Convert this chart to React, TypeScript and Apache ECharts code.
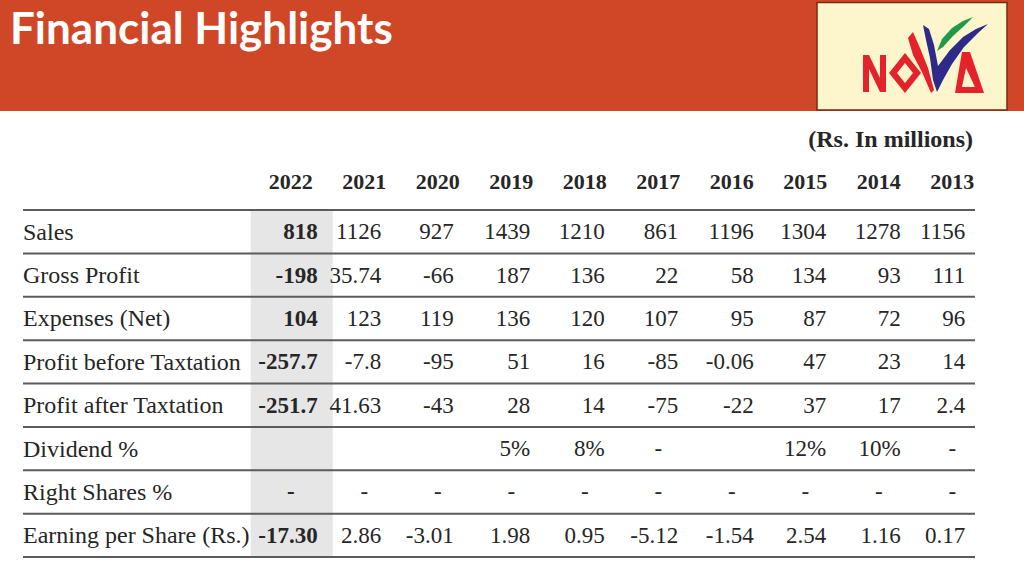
import React, { useEffect, useRef } from "react";
import * as echarts from "echarts";

const years = ["2022", "2021", "2020", "2019", "2018", "2017", "2016", "2015", "2014", "2013"];
const rowLabels = [
  "Sales",
  "Gross Profit",
  "Expenses (Net)",
  "Profit before Taxtation",
  "Profit after Taxtation",
  "Dividend %",
  "Right Shares %",
  "Earning per Share (Rs.)",
];
const sales = ["818", "1126", "927", "1439", "1210", "861", "1196", "1304", "1278", "1156"];
const grossProfit = ["-198", "35.74", "-66", "187", "136", "22", "58", "134", "93", "111"];
const expensesNet = ["104", "123", "119", "136", "120", "107", "95", "87", "72", "96"];
const profitBeforeTax = ["-257.7", "-7.8", "-95", "51", "16", "-85", "-0.06", "47", "23", "14"];
const profitAfterTax = ["-251.7", "41.63", "-43", "28", "14", "-75", "-22", "37", "17", "2.4"];
const dividend = ["", "", "", "5%", "8%", "-", "", "12%", "10%", "-"];
const rightShares = ["-", "-", "-", "-", "-", "-", "-", "-", "-", "-"];
const eps = ["-17.30", "2.86", "-3.01", "1.98", "0.95", "-5.12", "-1.54", "2.54", "1.16", "0.17"];

const tableRows = [sales, grossProfit, expensesNet, profitBeforeTax, profitAfterTax, dividend, rightShares, eps];
const highlightYear = "2022";
const title = "Financial Highlights";
const unitNote = "(Rs. In millions)";

// layout: right-edge offset of values from each column centre (px)
const valueAnchor = [27, 17, 16, 19, 20, 20, 22, 21, 22, 13];

const SERIF = "'Liberation Serif', 'Times New Roman', serif";
const TEXT = "#262626";

export default function App() {
  const ref = useRef<HTMLDivElement>(null);

  useEffect(() => {
    if (!ref.current) return;
    const chart = echarts.init(ref.current, undefined, { renderer: "svg" });

    const cellTexts: string[] = [];
    const cellData: number[][] = [];
    tableRows.forEach((row, r) => {
      row.forEach((v, c) => {
        cellTexts.push(v);
        cellData.push([c, r]);
      });
    });
    const hlIndex = years.indexOf(highlightYear);

    const option: any = {
      animation: false,
      backgroundColor: "#ffffff",
      grid: { left: 254, top: 210, width: 735, height: 347, containLabel: false },
      xAxis: {
        type: "category",
        data: years,
        position: "top",
        axisLine: { show: false },
        axisTick: { show: false },
        splitLine: { show: false },
        axisLabel: {
          margin: 18,
          fontFamily: SERIF,
          fontWeight: "bold",
          fontSize: 22,
          color: TEXT,
        },
      },
      yAxis: {
        type: "category",
        data: rowLabels,
        inverse: true,
        axisLine: { show: false },
        axisTick: { show: false },
        splitLine: { show: false },
        axisLabel: {
          align: "left",
          margin: 231,
          fontFamily: SERIF,
          fontSize: 24,
          color: TEXT,
        },
      },
      series: [
        {
          type: "custom",
          z: 1,
          silent: true,
          data: [[hlIndex, 0]],
          renderItem: (params: any, api: any) => {
            const cs = params.coordSys;
            const cx = api.coord([api.value(0), 0])[0];
            return {
              type: "rect",
              shape: { x: cx - 40, y: cs.y, width: 82, height: cs.height },
              style: { fill: "#e6e6e6" },
            };
          },
        },
        {
          type: "custom",
          z: 2,
          silent: true,
          data: rowLabels.map((_, r) => [0, r]),
          renderItem: (params: any, api: any) => {
            const cs = params.coordSys;
            const r = api.value(1);
            const y = api.coord([0, r])[1];
            const h = api.size([0, 1])[1];
            const x1 = cs.x - 231;
            const x2 = cs.x + cs.width - 14;
            const lineStyle = { stroke: "#5b5b5b", lineWidth: 2 };
            const children: any[] = [
              { type: "line", shape: { x1, y1: y + h / 2, x2, y2: y + h / 2 }, style: lineStyle },
            ];
            if (r === 0) {
              children.push({ type: "line", shape: { x1, y1: y - h / 2, x2, y2: y - h / 2 }, style: lineStyle });
            }
            return { type: "group", children };
          },
        },
        {
          type: "custom",
          z: 3,
          silent: true,
          data: cellData,
          renderItem: (params: any, api: any) => {
            const c = api.value(0);
            const r = api.value(1);
            const pt = api.coord([c, r]);
            const text = cellTexts[params.dataIndex];
            const isDash = text === "-";
            return {
              type: "text",
              x: isDash ? pt[0] : pt[0] + valueAnchor[c],
              y: pt[1],
              style: {
                text,
                align: isDash ? "center" : "right",
                verticalAlign: "middle",
                fill: TEXT,
                font: `${c === hlIndex ? "bold " : ""}23px ${SERIF}`,
              },
            };
          },
        },
      ],
      graphic: [
        { type: "rect", z: 0, silent: true, shape: { x: 0, y: 0, width: 1024, height: 111 }, style: { fill: "#d04727" } },
        {
          type: "text",
          silent: true,
          x: 10,
          y: 5,
          style: { text: title, fill: "#ffffff", font: "bold 44px Lato, 'Open Sans', sans-serif" },
        },
        {
          type: "text",
          silent: true,
          x: 973,
          y: 139,
          style: {
            text: unitNote,
            align: "right",
            verticalAlign: "middle",
            fill: TEXT,
            font: `bold 24px ${SERIF}`,
          },
        },
        {
          type: "group",
          silent: true,
          children: [
            {
              type: "rect",
              shape: { x: 817, y: 2.5, width: 190, height: 107.5 },
              style: { fill: "#fdf5cc", stroke: "#7a2a12", lineWidth: 1.5 },
            },
            // N
            {
              type: "polygon",
              shape: {
                points: [[863, 92], [863, 55], [869, 55], [880, 78], [880, 55], [886, 55], [886, 92], [880, 92], [869, 69], [869, 92]],
              },
              style: { fill: "#e3222b" },
            },
            // O (diamond)
            {
              type: "polygon",
              shape: { points: [[905, 53], [921, 73], [905, 93], [889, 73]] },
              style: { fill: "#e3222b" },
            },
            {
              type: "polygon",
              shape: { points: [[905, 63], [913, 73], [905, 83], [897, 73]] },
              style: { fill: "#fdf5cc" },
            },
            // green swoosh
            {
              type: "polygon",
              shape: { points: [[937, 51], [942, 39], [952, 28], [963, 21], [973, 17], [964, 26], [953, 36], [943, 47]] },
              style: { fill: "#1f9a48" },
            },
            // blue swoosh
            {
              type: "polygon",
              shape: {
                points: [[923, 25], [929, 29], [934, 45], [938, 66], [950, 50], [963, 37], [976, 29], [988, 24], [978, 33], [964, 47], [952, 64], [943, 80], [937, 92], [933, 80], [930, 58], [926, 40]],
              },
              style: { fill: "#2d2a8a" },
            },
            // red V stroke
            {
              type: "polygon",
              shape: { points: [[908, 38], [913, 32], [920, 48], [928, 68], [934, 90], [931, 93], [922, 72], [913, 55]] },
              style: { fill: "#e3222b" },
            },
            // A
            {
              type: "polygon",
              shape: { points: [[962, 52], [970, 52], [984, 93], [955, 93]] },
              style: { fill: "#e3222b" },
            },
            {
              type: "polygon",
              shape: { points: [[966, 68], [975, 87], [962, 87]] },
              style: { fill: "#fdf5cc" },
            },
          ],
        },
      ],
    };

    chart.setOption(option);
    return () => chart.dispose();
  }, []);

  return (
    <div
      ref={ref}
      style={{ position: "fixed", left: 0, top: 0, width: 1024, height: 576 }}
    />
  );
}
